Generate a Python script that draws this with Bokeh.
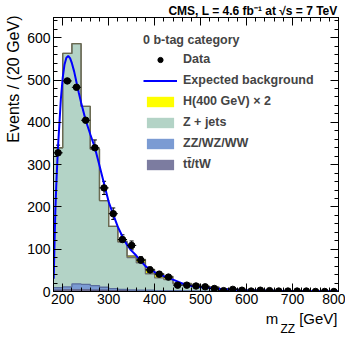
import numpy as np
from bokeh.plotting import figure
from bokeh.models import (ColumnDataSource, Range1d, LinearAxis, SingleIntervalTicker,
                          Label, Legend, LegendItem, Whisker, TeeHead, CustomJSTickFormatter,
                          Title)
from bokeh.embed import file_html
from bokeh.resources import INLINE

# ---------------- data ----------------
bin_low = list(range(180, 800, 20))          # 31 bins of 20 GeV
bin_width = 20

data_counts = [328, 498, 483, 405, 340, 245, 184, 123, 109, 74, 51, 41, 34, 15, 15,
               13, 11, 7, 2, 5, 3, 1, 3, 2, 1, 1, 1, 1, 0, 0, 0]

ttbar = [3, 4, 4, 4, 3, 3, 2, 2, 1, 1, 1, 0.8, 0.7, 0.6, 0.5, 0.4, 0.4, 0.3, 0.3, 0.2,
         0.2, 0.2, 0.1, 0.1, 0.1, 0.1, 0.1, 0.1, 0.1, 0.1, 0.1]
diboson = [6, 7, 14, 13, 11, 7, 5, 3, 3, 2, 2, 1.2, 1.3, 1.4, 1.0, 0.8, 0.6, 0.5, 0.4,
           0.4, 0.3, 0.2, 0.2, 0.2, 0.2, 0.1, 0.1, 0.1, 0.1, 0.1, 0.1]
zjets = [331, 552, 568, 421, 323, 205, 147, 112, 76, 65, 39, 30, 26, 16, 16.5, 14.8,
         11, 9.2, 6.3, 5.4, 4.5, 3.6, 2.7, 2.7, 1.7, 1.8, 1.3, 1.0, 0.8, 0.6, 0.4]
higgs_x2 = [0, 0, 0, 0, 0, 0, 0, 2, 4, 8, 10, 10, 8, 2, 1, 0.5, 0, 0, 0, 0, 0, 0, 0,
            0, 0, 0, 0, 0, 0, 0, 0]

fit_x = [180.5, 182, 184, 186, 188, 190, 193, 196, 200, 204, 208, 212, 216, 220, 225,
         230, 235, 240, 250, 260, 270, 280, 290, 300, 310, 320, 330, 340, 350, 360, 370,
         380, 390, 400, 420, 440, 460, 480, 500, 530, 560, 600, 650, 700, 750, 800]
fit_y = [30, 104, 190, 250, 300, 345, 400, 455, 505, 537, 553, 557, 552, 540, 520,
         495, 470, 447, 405, 372, 340, 298, 255, 212, 182, 153, 130, 110, 96, 85, 72,
         60, 52, 46, 36, 28, 19, 13, 10, 7, 5, 3, 2, 1, 0.7, 0.5]

x_ticks_interval = 100
y_ticks_interval = 100

# ---------------- derived stacks ----------------
lo = np.array(bin_low, dtype=float)
hi = lo + bin_width
c0 = np.zeros(len(bin_low))
c1 = np.array(ttbar)
c2 = c1 + np.array(diboson)
c3 = c2 + np.array(zjets)
c4 = c3 + np.array(higgs_x2)

FONT = "Liberation Sans"
C_TT = "#7C7CA0"
C_VV = "#7B9BD3"
C_ZJ = "#B3D3C6"
C_H = "#FFFF00"
C_EDGE = "#707070"

p = figure(width=345, height=343, x_range=Range1d(180, 800), y_range=Range1d(0, 648),
           output_backend="svg", toolbar_location=None,
           min_border_left=53, min_border_right=7, min_border_top=17, min_border_bottom=52)
p.grid.visible = False
p.outline_line_color = "black"
p.outline_line_width = 1
p.background_fill_color = "white"
p.border_fill_color = "white"

edges_x = list(lo) + [800.0]

def ext(a):
    return list(a) + [a[-1]]

# stacked histograms as stepped areas (no seams)
fills = {}
for name, bottom, top, col in [("tt", c0, c1, C_TT), ("vv", c1, c2, C_VV),
                               ("zj", c2, c3, C_ZJ), ("h", c3, c4, C_H)]:
    fills[name] = p.varea_step(x=edges_x, y1=ext(bottom), y2=ext(top), step_mode="after",
                               fill_color=col)

for top, col in [(c1, "#55557A"), (c2, "#5A6E9E"), (c3, C_EDGE), (c4, "#6A6A50")]:
    p.step(x=edges_x, y=ext(top), mode="after", line_color=col, line_width=1.3)

# expected background curve
r_fit = p.line(fit_x, fit_y, line_color="#0000FF", line_width=2)

# data points with errors
dy = np.sqrt(np.array(data_counts, dtype=float))
src = ColumnDataSource(dict(x=lo + bin_width / 2, y=data_counts,
                            lo=np.array(data_counts) - dy, hi=np.array(data_counts) + dy,
                            xl=lo, xr=hi))
p.segment(x0="xl", y0="y", x1="xr", y1="y", source=src, line_color="black", line_width=1)
wh = Whisker(base="x", upper="hi", lower="lo", source=src, line_color="black", line_width=1,
             upper_head=TeeHead(size=4, line_color="black", line_width=1),
             lower_head=TeeHead(size=4, line_color="black", line_width=1))
p.add_layout(wh)
r_data = p.scatter("x", "y", source=src, size=6.5, marker="circle", color="black")

legend = Legend(items=[
    LegendItem(label="Data", renderers=[r_data]),
    LegendItem(label="Expected background", renderers=[r_fit]),
    LegendItem(label="H(400 GeV) \u00d7 2", renderers=[fills["h"]]),
    LegendItem(label="Z + jets", renderers=[fills["zj"]]),
    LegendItem(label="ZZ/WZ/WW", renderers=[fills["vv"]]),
    LegendItem(label="tt\u0304/tW", renderers=[fills["tt"]]),
], location=(90, 120), title="0 b-tag category")
legend.title_text_font = FONT
legend.title_text_font_style = "bold"
legend.title_text_font_size = "12.5px"
legend.title_standoff = 5
legend.label_text_font = FONT
legend.label_text_font_style = "bold"
legend.label_text_font_size = "12.5px"
legend.border_line_color = None
legend.background_fill_alpha = 0
legend.padding = 0
legend.margin = 0
legend.spacing = 7
legend.glyph_width = 34
legend.glyph_height = 13
legend.label_height = 14
legend.label_standoff = 6
p.add_layout(legend)

# axes styling
def style_axis(ax, labels=True):
    ax.axis_line_color = "black"
    ax.major_tick_in = 8
    ax.major_tick_out = 0
    ax.minor_tick_in = 4
    ax.minor_tick_out = 0
    ax.major_tick_line_color = "black"
    ax.minor_tick_line_color = "black"
    ax.major_label_text_font = FONT
    ax.major_label_text_font_size = "14px"
    ax.major_label_text_color = "black"
    ax.major_label_standoff = 3
    if not labels:
        ax.formatter = CustomJSTickFormatter(code="return ''")
        ax.major_label_text_font_size = "0px"
        ax.major_label_standoff = 0

p.xaxis.ticker = SingleIntervalTicker(interval=x_ticks_interval, num_minor_ticks=5)
p.yaxis.ticker = SingleIntervalTicker(interval=y_ticks_interval, num_minor_ticks=5)
xax = p.xaxis[0]
yax = p.yaxis[0]
style_axis(xax)
style_axis(yax)
xax.major_label_standoff = 2

ax_r = LinearAxis(ticker=SingleIntervalTicker(interval=y_ticks_interval, num_minor_ticks=5))
style_axis(ax_r, labels=False)
p.add_layout(ax_r, "right")
ax_t = LinearAxis(ticker=SingleIntervalTicker(interval=x_ticks_interval, num_minor_ticks=5))
style_axis(ax_t, labels=False)
p.add_layout(ax_t, "above")

# header
p.title.text = "CMS, L = 4.6 fb\u207b\u00b9 at \u221as = 7 TeV"
p.title.align = "right"
p.title.text_font = FONT
p.title.text_font_style = "bold"
p.title.text_font_size = "12px"
p.title.text_color = "black"
p.title.standoff = 0
p.title.offset = 1

# axis titles as side-panel titles, aligned to the far end of each axis
p.add_layout(Title(text="Events / (20 GeV)", align="right", text_font=FONT,
                   text_font_style="normal", text_font_size="16px", text_color="black",
                   standoff=5, offset=-2), "left")
p.add_layout(Title(text="m\u00a0\u00a0\u00a0\u00a0\u00a0[GeV]", align="right", text_font=FONT,
                   text_font_style="normal", text_font_size="15px", text_color="black",
                   standoff=3, offset=1), "below")

# subscript of the x title (side panel, so it is not clipped by the frame)
p.add_layout(Label(x=280, y=328, x_units="canvas", y_units="canvas", text="ZZ",
                   text_align="left", text_baseline="alphabetic", text_font=FONT,
                   text_font_size="12px", text_color="black"), "below")

open("out.html", "w").write(file_html(p, INLINE))
